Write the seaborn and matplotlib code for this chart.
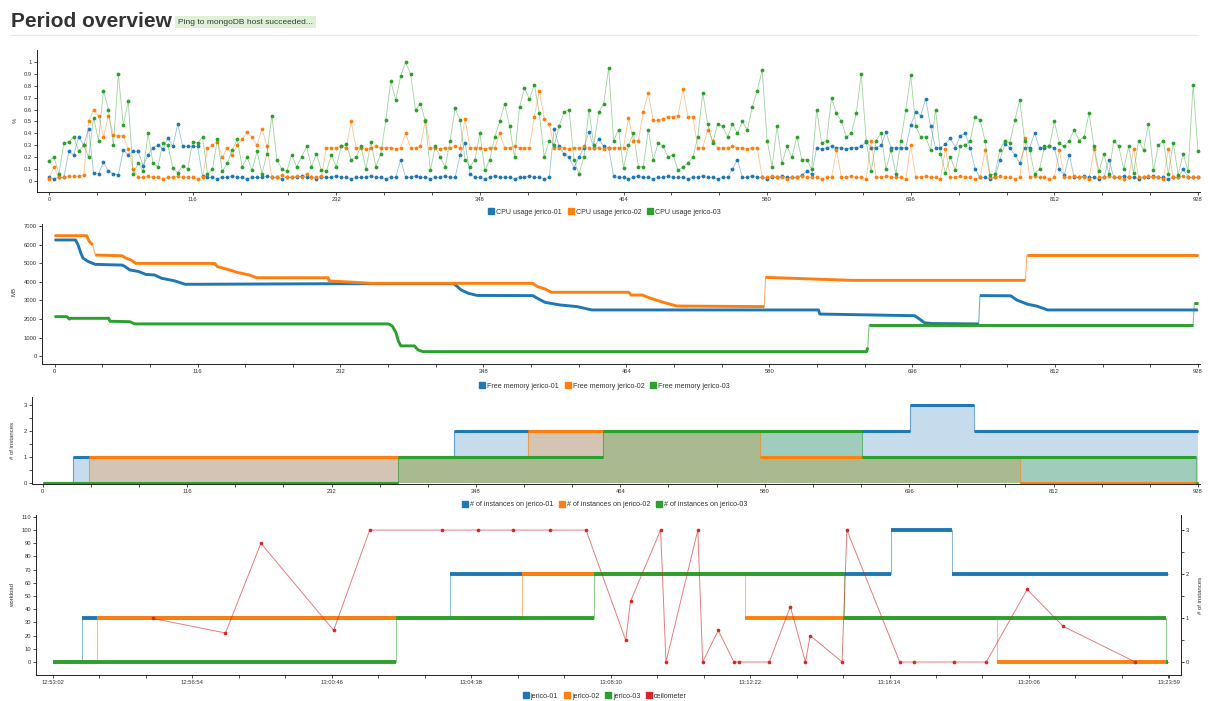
import numpy as np
import matplotlib
matplotlib.use("Agg")
import matplotlib.pyplot as plt
from matplotlib.lines import Line2D
from matplotlib.ticker import FixedLocator, MultipleLocator, NullFormatter, FuncFormatter
import seaborn as sns

sns.set_style("ticks")
plt.rcParams["font.family"] = ["Liberation Sans", "DejaVu Sans"]

C_BLUE, C_ORANGE, C_GREEN, C_RED = "#1f77b4", "#ff7f0e", "#2ca02c", "#d62728"

# ---------------- data ----------------
CPU_STEP = 4  # one value read every 4 samples
cpu_j01 = [3, 2, 3, 3, 25, 22, 37, 30, 44, 7, 6, 16, 8, 6, 5, 26, 22, 25, 25, 13, 22, 28, 30, 27, 36, 29, 48, 29, 29, 29, 29, 4,
           3, 3, 2, 3, 3, 4, 3, 3, 2, 3, 3, 3, 4, 3, 3, 2, 3, 3, 3, 4, 3, 3, 2, 3, 3, 3, 4, 3, 3, 2, 3, 3, 3, 4, 3, 3, 2, 3, 3,
           18, 3, 3, 4, 3, 3, 2, 3, 3, 4, 3, 3, 22, 32, 6,
           3, 3, 2, 3, 4, 3, 3, 3, 2, 3, 3, 4, 3, 3, 2, 3,
           44, 29, 23, 20, 11, 20, 28, 41, 28, 35, 29, 28, 4,
           3, 3, 2, 3, 4, 3, 3, 2, 3, 3, 4, 3, 3, 3, 2, 3, 3, 4, 3, 3, 2, 3, 3, 10, 18,
           3, 3, 4, 3, 3, 2, 3, 3, 4, 3, 3, 3, 5, 8, 6,
           28, 27, 28, 29, 28, 28, 27, 28, 28, 29, 33, 28, 28, 30, 41, 28, 28, 28, 28,
           47, 58, 55, 69, 46, 28, 28, 31, 36, 28, 38, 40, 28, 10, 3, 3, 2, 3,
           18, 31, 28, 22, 15, 28, 28, 40, 28, 28, 29, 28, 10, 5, 22,
           3, 3, 4, 3, 3, 2, 3, 18, 3, 3, 4, 3, 3, 2, 3, 3, 4, 3, 3, 2, 3, 3, 10, 3, 3, 3]
cpu_j02 = [2, 12, 3, 3, 4, 4, 4, 5, 50, 60, 55, 37, 55, 39, 38, 38, 27, 10,
           3, 3, 4, 3, 3, 2, 3, 3, 4, 3, 3, 3, 2, 3,
           28, 30, 33, 20, 28, 22, 30, 35, 41, 37, 30, 44, 29,
           3, 3, 5, 3, 3, 4, 3, 6, 3, 3, 4,
           28, 28, 28, 29, 28, 50, 28, 28, 27, 28, 29, 28, 28, 28, 27, 28, 40, 28, 28, 29, 51,
           28, 28, 27, 28, 28, 29, 28, 52, 28, 28, 28, 27, 28, 28, 40, 28, 28, 29, 28, 28, 28,
           54, 76, 52, 48, 28, 28, 28, 27, 28, 28, 29, 28, 28, 28, 27, 28, 28, 28,
           28, 53, 34, 34, 58, 74, 51, 51, 52, 54, 54, 55, 77, 54, 54, 28, 28, 43, 34,
           28, 28, 28, 29, 28, 28, 27, 28, 28,
           3, 3, 4, 3, 3, 2, 3, 3, 4, 3, 3, 3, 2, 3, 3, 26, 3, 3, 4, 3, 3, 2, 34, 3, 3, 4, 3, 3, 3, 2,
           30, 3, 3, 4, 3, 3, 2, 27, 3, 3, 4, 3, 3, 2, 3, 26, 3, 3, 4, 3, 3, 2, 3, 36, 3, 4, 3, 3, 2, 3,
           26, 3, 3, 4, 3, 3, 2, 27, 3, 3, 4, 3, 3, 2, 3, 27, 3, 3, 4, 3, 3, 2, 27, 3, 3, 4, 3, 3, 3]
cpu_j03 = [17, 20, 6, 32, 33, 37, 25, 30, 20, 53, 34, 76, 60, 30, 90, 47, 67, 6, 15, 8, 40, 15, 12, 32, 30, 11, 7, 13, 10,
           33, 32, 37, 6, 10, 35, 8, 15, 26, 35, 12, 20, 9, 25, 6, 23, 55, 18, 10, 8, 22, 12, 20, 29, 12, 23, 9, 8, 22,
           12, 29, 31, 18, 20, 29, 10, 33, 12, 23, 51, 84, 68, 88, 100, 90, 60, 65, 50, 9, 29, 20, 12, 34, 61, 51, 18,
           12, 18, 40, 9, 18, 37, 50, 65, 46, 20, 62, 78, 69, 81, 57, 20, 34, 30, 46, 58, 60, 18, 6, 20, 60, 30, 58,
           65, 95, 34, 43, 11, 30, 40, 12, 12, 43, 18, 32, 29, 20, 22, 9, 12, 15, 20, 37, 74, 48, 32, 48, 46, 37, 48,
           40, 50, 43, 62, 76, 93, 34, 12, 46, 15, 29, 20, 37, 18, 18, 10, 60, 32, 34, 70, 57, 50, 37, 40, 57, 90, 34,
           8, 34, 40, 10, 26, 6, 34, 60, 89, 46, 37, 37, 26, 60, 23, 7, 20, 9, 29, 30, 34, 54, 51, 34, 5, 6, 26, 34,
           32, 51, 68, 34, 26, 6, 10, 29, 29, 50, 32, 29, 34, 43, 34, 37, 57, 29, 8, 23, 6, 34, 29, 10, 29, 7, 34, 26,
           48, 9, 30, 34, 6, 32, 5, 23, 8, 81, 25]

mem_j01_idx = [0, 17, 19, 21, 23, 27, 33, 55, 57, 61, 68, 74, 81, 87, 97, 106, 116, 228, 324, 327, 330, 336, 343,
               388, 392, 398, 410, 424, 436, 620, 621, 698, 701, 706, 712, 750, 751, 776, 781, 790, 797, 806, 928]
mem_j01_mb = [6250, 6250, 6000, 5600, 5280, 5100, 4940, 4900, 4830, 4640, 4560, 4400, 4370, 4190, 4060, 3870, 3870,
              3900, 3900, 3740, 3560, 3380, 3270, 3260, 3110, 2900, 2760, 2670, 2490, 2490, 2270, 2180, 2050, 1800,
              1760, 1740, 3260, 3250, 3020, 2790, 2700, 2490, 2490]
mem_j02_idx = [0, 26, 28, 31, 33, 55, 57, 62, 66, 130, 132, 142, 148, 158, 164, 222, 223, 257, 388, 392, 398, 403,
               466, 468, 477, 484, 494, 505, 576, 577, 647, 788, 789, 928]
mem_j02_mb = [6480, 6480, 6190, 5980, 5440, 5400, 5300, 5170, 4990, 4990, 4820, 4640, 4510, 4370, 4220, 4220, 4050,
              3920, 3920, 3740, 3620, 3440, 3440, 3290, 3290, 3110, 2900, 2700, 2670, 4240, 4080, 4080, 5440, 5440]
mem_j03_idx = [0, 10, 12, 13, 44, 45, 61, 65, 271, 274, 277, 279, 281, 292, 295, 299, 659, 660, 661, 924, 925, 928]
mem_j03_mb = [2130, 2130, 2000, 2040, 2040, 1880, 1860, 1740, 1740, 1630, 1290, 820, 560, 560, 340, 250, 250, 470,
              1680, 1680, 2850, 2850]

inst_j01_idx = [0, 24, 330, 697, 748, 928]
inst_j01_n = [0, 1, 2, 3, 2, 2]
inst_j02_idx = [0, 37, 390, 576, 785, 928]
inst_j02_n = [0, 1, 2, 1, 0, 0]
inst_j03_idx = [0, 285, 450, 658, 926, 928]
inst_j03_n = [0, 1, 2, 1, 0, 0]

SEC_PER_SAMPLE = 2
ceil_sec = [166, 287, 346, 467, 527, 647, 707, 766, 827, 887, 953, 961, 1011, 1020, 1073, 1081, 1107, 1133, 1141,
            1192, 1227, 1252, 1260, 1313, 1321, 1409, 1432, 1500, 1553, 1621, 1681, 1801]
ceil_load = [33, 22, 90, 24, 100, 100, 100, 100, 100, 100, 16.5, 46, 100, 0, 100, 0, 24, 0, 0,
             0, 42, 0, 20, 0, 100, 0, 0, 0, 0, 55, 27, 0]
time_tick_sec = [0, 232, 464, 696, 928, 1160, 1392, 1624, 1857]
time_tick_lbl = ["12:53:02", "12:56:54", "13:00:46", "13:04:38", "13:08:30", "13:12:22", "13:16:14", "13:20:06",
                 "13:23:59"]
idx_ticks = [0, 116, 232, 348, 464, 580, 696, 812, 928]

# ---------------- figure ----------------
W, H = 1208, 701
fig = plt.figure(figsize=(W / 100, H / 100), dpi=100)
TXT = "#333333"
TICK_FS = 4.2


def add_axes(l, r, t, b):
    return fig.add_axes([l / W, 1 - b / H, (r - l) / W, (b - t) / H])


def style(ax):
    for s in ["top", "right"]:
        ax.spines[s].set_visible(False)
    for s in ["left", "bottom"]:
        ax.spines[s].set_color("#222222")
        ax.spines[s].set_linewidth(0.7)
    ax.tick_params(which="both", length=2.4, width=0.6, color="#333333", labelsize=TICK_FS,
                   labelcolor=TXT, pad=1.2)
    ax.set_xlabel("")
    ax.set_ylabel("")


def idx_xaxis(ax):
    ax.xaxis.set_major_locator(FixedLocator(idx_ticks))
    ax.xaxis.set_minor_locator(FixedLocator(np.arange(0, 929, 928 / 24)))
    ax.xaxis.set_minor_formatter(NullFormatter())


def legend(labels, colors, yc):
    handles = [Line2D([], [], ls="none", marker="s", ms=4.3, mfc=c, mec=c) for c in colors]
    fig.legend(handles, labels, loc="center", bbox_to_anchor=(605 / W, 1 - yc / H), ncol=len(labels),
               frameon=False, fontsize=5.1, handlelength=0.7, handletextpad=0.35, columnspacing=0.9,
               borderpad=0, labelcolor=TXT)


def ylab(text, x, y):
    fig.text(x / W, 1 - y / H, text, rotation=90, ha="center", va="center", fontsize=4.3, color=TXT)


# title + badge + rule
fig.text(11 / W, 1 - 27 / H, "Period overview", fontsize=15, weight="bold", color=TXT, va="baseline")
fig.text(178 / W, 1 - 22 / H, "Ping to mongoDB host succeeded...", fontsize=6, color="#2f3f2f", va="center",
         bbox=dict(boxstyle="square,pad=0.35", fc="#dff0d8", ec="none"))
fig.add_artist(Line2D([10 / W, 1198 / W], [1 - 35 / H] * 2, color="#e8e8e8", lw=0.8))

# ---- panel 1: CPU ----
ax1 = add_axes(37, 1200, 50, 192)
for k, (vals, col) in enumerate([(cpu_j01, C_BLUE), (cpu_j02, C_ORANGE), (cpu_j03, C_GREEN)]):
    y = np.asarray(vals, float) / 100
    x = np.arange(len(y)) * CPU_STEP
    sns.lineplot(x=x, y=y, ax=ax1, color=col, lw=0.6, alpha=0.45, estimator=None, sort=False,
                 legend=False, zorder=2 + 2 * k)
    sns.scatterplot(x=x, y=y, ax=ax1, color=col, s=7.5, linewidth=0, legend=False, zorder=3 + 2 * k)
ax1.set_xlim(-9.7, 929.6)
ax1.set_ylim(-0.0924, 1.1008)
idx_xaxis(ax1)
ax1.yaxis.set_major_locator(FixedLocator(np.round(np.arange(0, 1.01, 0.1), 1)))
ax1.yaxis.set_major_formatter(FuncFormatter(lambda v, p: f"{v:g}"))
style(ax1)
ylab("%", 15, 120)
legend(["CPU usage jerico-01", "CPU usage jerico-02", "CPU usage jerico-03"], [C_BLUE, C_ORANGE, C_GREEN], 212)

# ---- panel 2: memory ----
ax2 = add_axes(42, 1200, 224, 364)


def draw_mem(ax, idx, mb, col, z):
    idx = np.asarray(idx, float)
    mb = np.asarray(mb, float)
    sns.lineplot(x=idx, y=mb, ax=ax, color=col, lw=0.8, alpha=0.6, estimator=None, sort=False,
                 legend=False, zorder=z)
    jump = np.abs(np.diff(mb)) / np.diff(idx) > 250
    start = 0
    for j in list(np.where(jump)[0]) + [len(idx) - 1]:
        ax.plot(idx[start:j + 1], mb[start:j + 1], color=col, lw=2.1, solid_capstyle="butt", zorder=z + 0.5)
        start = j + 1


draw_mem(ax2, mem_j01_idx, mem_j01_mb, C_BLUE, 2)
draw_mem(ax2, mem_j02_idx, mem_j02_mb, C_ORANGE, 3)
draw_mem(ax2, mem_j03_idx, mem_j03_mb, C_GREEN, 4)
ax2.set_xlim(-10.2, 929.6)
ax2.set_ylim(-414, 7108)
idx_xaxis(ax2)
ax2.yaxis.set_major_locator(MultipleLocator(1000))
style(ax2)
ylab("MB", 14, 291)
legend(["Free memory jerico-01", "Free memory jerico-02", "Free memory jerico-03"],
       [C_BLUE, C_ORANGE, C_GREEN], 386)

# ---- panel 3: instances ----
ax3 = add_axes(32, 1200, 397, 484)
inst = [(inst_j01_idx, inst_j01_n, C_BLUE), (inst_j02_idx, inst_j02_n, C_ORANGE), (inst_j03_idx, inst_j03_n, C_GREEN)]
for idx, n, col in inst:
    ax3.fill_between(idx, n, step="post", color=col, alpha=0.25, lw=0, zorder=1)
for k, (idx, n, col) in enumerate(inst):
    sns.lineplot(x=idx, y=n, ax=ax3, color=col, lw=0.8, alpha=0.6, drawstyle="steps-post", estimator=None,
                 legend=False, zorder=2 + k)
    ax3.hlines(n[:-1], idx[:-1], idx[1:], colors=col, lw=2.2, zorder=2.5 + k)
ax3.set_xlim(-8.6, 929.6)
ax3.set_ylim(-0.027, 3.306)
idx_xaxis(ax3)
ax3.yaxis.set_major_locator(FixedLocator([0, 1, 2, 3]))
ax3.yaxis.set_minor_locator(FixedLocator([0.5, 1.5, 2.5]))
style(ax3)
ylab("# of instances", 13, 440)
legend(["# of instances on jerico-01", "# of instances on jerico-02", "# of instances on jerico-03"],
       [C_BLUE, C_ORANGE, C_GREEN], 505)

# ---- panel 4: workload vs instances over time ----
LOAD_PER_INSTANCE = 100 / 3
ax4 = add_axes(36, 1181, 515, 675)
for k, (idx, n, col) in enumerate(inst):
    t = np.asarray(idx, float) * SEC_PER_SAMPLE
    w = np.asarray(n, float) * LOAD_PER_INSTANCE
    sns.lineplot(x=t, y=w, ax=ax4, color=col, lw=0.8, alpha=0.5, drawstyle="steps-post", estimator=None,
                 legend=False, zorder=2 + k)
    ax4.hlines(w[:-1], t[:-1], t[1:], colors=col, lw=2.8, zorder=2.5 + k)
sns.lineplot(x=ceil_sec, y=ceil_load, ax=ax4, color=C_RED, lw=0.7, alpha=0.6, estimator=None, sort=False,
             legend=False, zorder=8)
sns.scatterplot(x=ceil_sec, y=ceil_load, ax=ax4, color=C_RED, s=7, linewidth=0, legend=False, zorder=9)
ax4.set_xlim(-28.3, 1877)
ax4.set_ylim(-9.85, 111.4)
ax4.xaxis.set_major_locator(FixedLocator(time_tick_sec))
ax4.set_xticklabels(time_tick_lbl)
ax4.xaxis.set_minor_locator(FixedLocator(np.arange(0, 1857, 232 / 3)))
ax4.xaxis.set_minor_formatter(NullFormatter())
ax4.yaxis.set_major_locator(MultipleLocator(10))
style(ax4)
sec = ax4.secondary_yaxis("right", functions=(lambda v: v / LOAD_PER_INSTANCE, lambda v: v * LOAD_PER_INSTANCE))
sec.yaxis.set_major_locator(FixedLocator([0, 1, 2, 3]))
sec.yaxis.set_minor_locator(FixedLocator([0.5, 1.5, 2.5]))
sec.spines["right"].set_color("#222222")
sec.spines["right"].set_linewidth(0.7)
sec.tick_params(which="both", length=2.4, width=0.6, color="#333333", labelsize=TICK_FS, labelcolor=TXT, pad=1.2)
ylab("workload", 13, 595)
ylab("# of instances", 1201, 595)
legend(["jerico-01", "jerico-02", "jerico-03", "ceilometer"], [C_BLUE, C_ORANGE, C_GREEN, C_RED], 696)

fig.savefig("out.png", dpi=100)
